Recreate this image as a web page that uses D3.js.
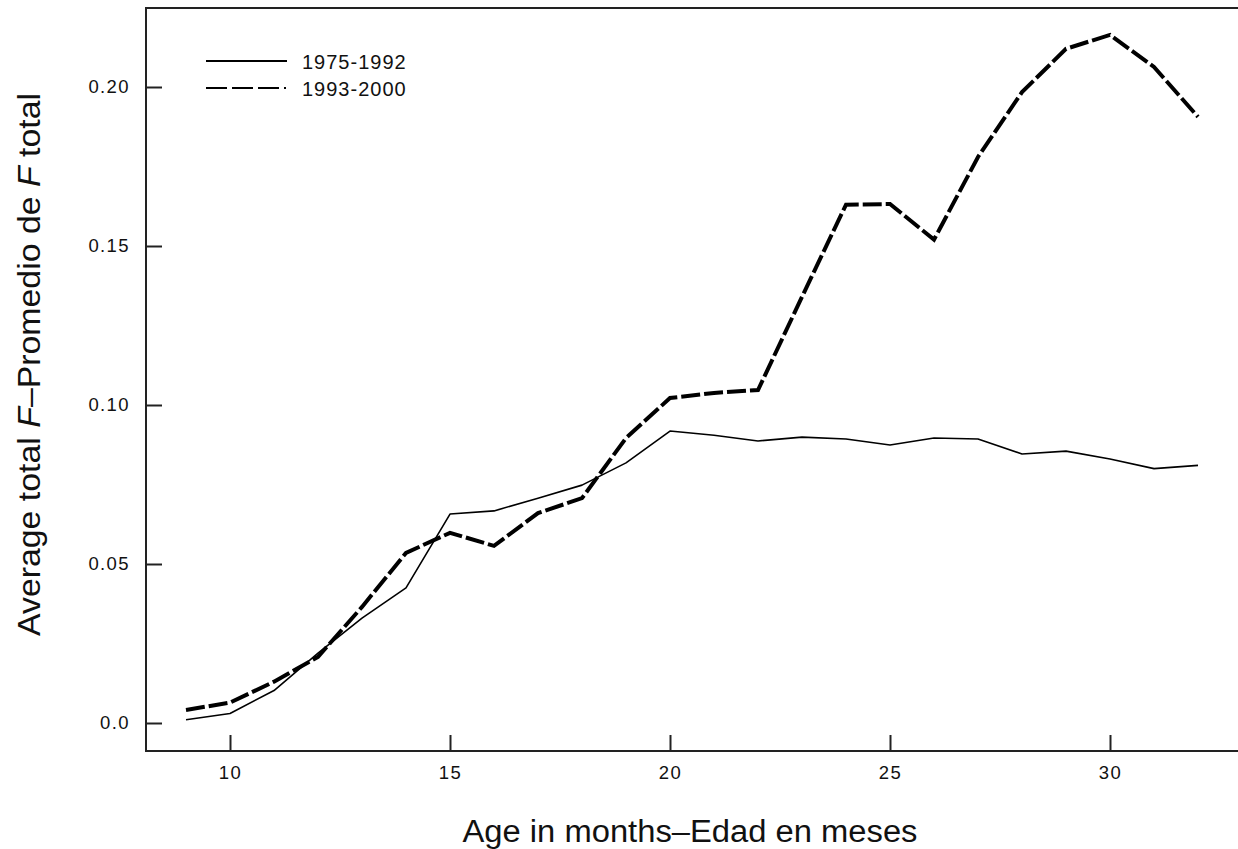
<!DOCTYPE html>
<html>
<head>
<meta charset="utf-8">
<script src="https://cdn.jsdelivr.net/npm/d3@7"></script>
<style>
  body { margin: 0; background: #fff; }
  text { font-family: "Liberation Sans", Arial, sans-serif; fill: #111; }
</style>
</head>
<body>
<script>
// ages (months) and the two series
var ages = [9, 10, 11, 12, 13, 14, 15, 16, 17, 18, 19, 20, 21, 22, 23, 24, 25, 26, 27, 28, 29, 30, 31, 32];
var f7592 = [0.001, 0.003, 0.0102, 0.022, 0.033, 0.0425, 0.0657, 0.0667, 0.0707, 0.0748, 0.0818, 0.0918,
             0.0905, 0.0887, 0.0899, 0.0893, 0.0874, 0.0896, 0.0893, 0.0846, 0.0855, 0.083, 0.080, 0.081];
var f9300 = [0.0041, 0.0064, 0.013, 0.0208, 0.0365, 0.0535, 0.0598, 0.0557, 0.066, 0.0707, 0.0896, 0.1022,
             0.1038, 0.1047, 0.134, 0.163, 0.1632, 0.152, 0.178, 0.1984, 0.212, 0.2164, 0.2063, 0.1906];
var seriesNames = ["1975-1992", "1993-2000"];
var xTicks = [10, 15, 20, 25, 30];
var yTicks = [0, 0.05, 0.10, 0.15, 0.20];
var yTickLabels = ["0.0", "0.05", "0.10", "0.15", "0.20"];

var W = 1238, H = 849;
var frameL = 146, frameB = 751, frameT = 8, frameR = 1240;

var x = d3.scaleLinear().domain([10, 30]).range([230, 1110]);
var y = d3.scaleLinear().domain([0, 0.2]).range([723, 87]);

var svg = d3.select("body").append("svg")
    .attr("width", W)
    .attr("height", H);

// frame (right side falls off the picture)
svg.append("rect")
    .attr("x", frameL).attr("y", frameT)
    .attr("width", frameR - frameL).attr("height", frameB - frameT)
    .attr("fill", "none")
    .attr("stroke", "#222")
    .attr("stroke-width", 2);

// axes, ticks inward
var xAxis = d3.axisBottom(x).tickValues(xTicks).tickSize(-16).tickPadding(12).tickFormat(d3.format("d"));
var yAxis = d3.axisLeft(y).tickValues(yTicks).tickSize(-16).tickPadding(16)
    .tickFormat(function (d, i) { return yTickLabels[i]; });

var gx = svg.append("g").attr("transform", "translate(0," + frameB + ")").call(xAxis);
var gy = svg.append("g").attr("transform", "translate(" + frameL + ",0)").call(yAxis);
[gx, gy].forEach(function (g) {
    g.select(".domain").remove();
    g.selectAll(".tick line").attr("stroke", "#222").attr("stroke-width", 2);
    g.selectAll(".tick text")
        .style("font-family", "Liberation Sans, Arial, sans-serif")
        .style("font-size", "18.5px")
        .style("letter-spacing", "1.4px")
        .attr("fill", "#111");
});
gx.selectAll(".tick text").attr("dy", "0.85em");

var line = d3.line()
    .x(function (d, i) { return x(ages[i]); })
    .y(function (d) { return y(d); });

svg.append("path")
    .datum(f7592)
    .attr("d", line)
    .attr("fill", "none")
    .attr("stroke", "#000")
    .attr("stroke-width", 1.6)
    .attr("stroke-linejoin", "round");

svg.append("path")
    .datum(f9300)
    .attr("d", line)
    .attr("fill", "none")
    .attr("stroke", "#000")
    .attr("stroke-width", 4)
    .attr("stroke-dasharray", "19,4");

// legend
var legend = svg.append("g");
var legRows = [{ name: seriesNames[0], dash: null, y: 61 }, { name: seriesNames[1], dash: "21,5,21,5,21,5,2,5", y: 88 }];
legRows.forEach(function (r) {
    legend.append("line")
        .attr("x1", 206).attr("x2", 287)
        .attr("y1", r.y).attr("y2", r.y)
        .attr("stroke", "#000")
        .attr("stroke-width", 1.8)
        .attr("stroke-dasharray", r.dash);
    legend.append("text")
        .attr("x", 302).attr("y", r.y + 7.5)
        .style("font-size", "20px")
        .style("letter-spacing", "1px")
        .text(r.name);
});

// axis titles
svg.append("text")
    .attr("x", 690).attr("y", 842)
    .attr("text-anchor", "middle")
    .attr("textLength", 455)
    .attr("lengthAdjust", "spacingAndGlyphs")
    .style("font-size", "31px")
    .text("Age in months\u2013Edad en meses");

var yl = svg.append("text")
    .attr("transform", "translate(40,364.5) rotate(-90)")
    .attr("text-anchor", "middle")
    .attr("textLength", 543)
    .attr("lengthAdjust", "spacingAndGlyphs")
    .style("font-size", "32px");
yl.append("tspan").text("Average total ");
yl.append("tspan").style("font-style", "italic").text("F");
yl.append("tspan").text("\u2013Promedio de ");
yl.append("tspan").style("font-style", "italic").text("F");
yl.append("tspan").text(" total");
</script>
</body>
</html>
